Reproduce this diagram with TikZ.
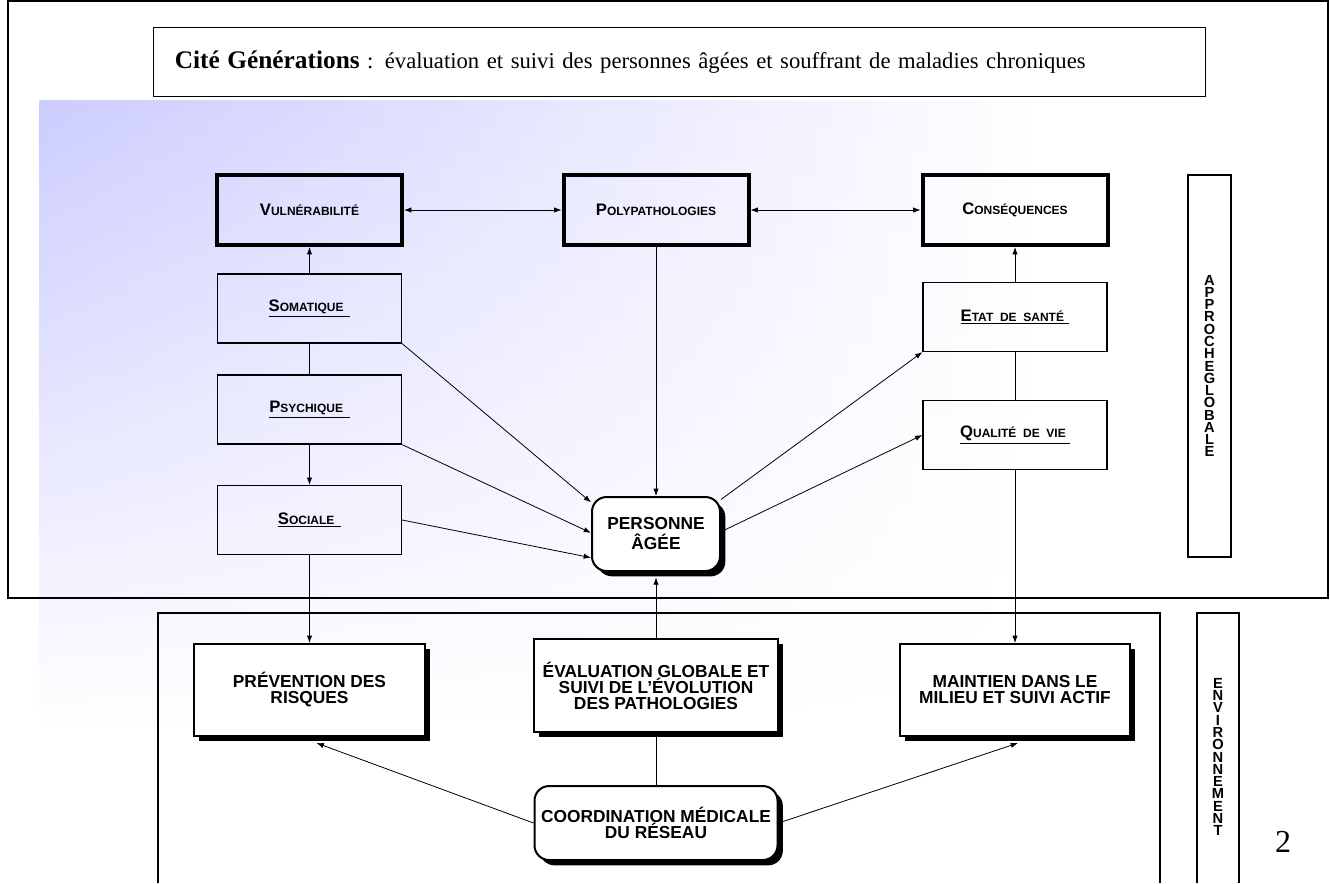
\documentclass[tikz,border=0pt]{standalone}
\usepackage{fontspec}
\setmainfont{Liberation Serif}
\newfontfamily\arial{Liberation Sans}
\usetikzlibrary{arrows.meta, shadows, fadings}
\newcommand{\capsc}[2]{{\fontsize{12.5}{14}\selectfont #1}{\fontsize{9}{11}\selectfont #2}}
\newcommand{\ulbox}[1]{\leavevmode\vtop{\hbox{#1}\kern1.2pt\hrule height 1pt}}
\tikzfading[name=fadedown, top color=transparent!0, bottom color=transparent!100]
\tikzset{
	mainbox/.style={draw, line width=3pt, minimum width=138.75pt, minimum height=52.5pt, font=\arial\bfseries},
	subbox/.style={draw, line width=0.9pt, minimum width=138pt, minimum height=51.75pt, font=\arial\bfseries},
	actbox/.style={draw, fill=white, line width=1.5pt, align=center,
		font=\arial\bfseries\fontsize{13}{12}\selectfont,
		drop shadow={shadow xshift=4pt, shadow yshift=-4pt, fill=black, opacity=1}},
	hub/.style={actbox, rounded corners=11pt},
	sidebox/.style={draw, line width=0.8pt, align=center, font=\arial\bfseries\fontsize{11}{9.2}\selectfont},
	line/.style={draw, line width=0.6pt, -{Latex[length=5.5pt,width=4pt]}},
	both/.style={line, {Latex[length=5.5pt,width=4pt]}-{Latex[length=5.5pt,width=4pt]}},
	link/.style={draw, line width=0.6pt}
}
\begin{document}
\begin{tikzpicture}[x=0.75pt, y=-0.75pt]
	\useasboundingbox (0,0) rectangle (1330,883);
	% fond
	\shade[left color=blue!20, right color=white, path fading=fadedown] (40,100) rectangle (1040,730);
	\draw[line width=0.8pt] (8,1) rectangle (1328,598);
	\draw[line width=0.8pt] (158,883) |- (1160,613) -- (1160,883);
	\draw[line width=0.8pt] (1197,883) |- (1239,613) -- (1239,883);
	\node[draw, line width=1.1pt, minimum height=51.75pt, text width=757pt, inner xsep=16pt, align=left,
		font=\fontsize{17}{20}\selectfont] (title) at (679.5,62)
		{{\fontsize{19}{20}\selectfont\bfseries Cité Générations} : évaluation et suivi des personnes âgées et souffrant de maladies chroniques};
	% approche globale
	\node[mainbox] (vuln) at (309.5,210) {\capsc{V}{ULNÉRABILITÉ}};
	\node[mainbox] (poly) at (656,210) {\capsc{P}{OLYPATHOLOGIES}};
	\node[mainbox] (cons) at (1015,210) {\capsc{C}{ONSÉQUENCES}};
	\node[subbox] (soma) at (309.5,308.5) {\ulbox{\capsc{S}{OMATIQUE}\hspace{5pt}}};
	\node[subbox] (psy) at (309.5,409.5) {\ulbox{\capsc{P}{SYCHIQUE}\hspace{5pt}}};
	\node[subbox] (soc) at (309.5,520) {\ulbox{\capsc{S}{OCIALE}\hspace{5pt}}};
	\node[subbox] (etat) at (1015,317) {\ulbox{\capsc{E}{TAT\ \ DE\ \ SANTÉ}\hspace{4pt}}};
	\node[subbox] (qual) at (1015,435) {\ulbox{\capsc{Q}{UALITÉ\ \ DE\ \ VIE}\hspace{3pt}}};
	\node[hub, minimum width=96pt, minimum height=55.5pt, font=\arial\bfseries\fontsize{13}{15}\selectfont] (pers) at (656,534) {PERSONNE\\ÂGÉE};
	\node[sidebox, minimum width=32.25pt, minimum height=286.5pt] (appr) at (1209.5,366)
		{A\\P\\P\\R\\O\\C\\H\\E\\G\\L\\O\\B\\A\\L\\E};
	% environnement
	\node[actbox, minimum width=173.25pt, minimum height=69pt] (prev) at (309.5,690) {PRÉVENTION DES\\RISQUES};
	\node[actbox, minimum width=183pt, minimum height=69.75pt] (eval) at (656,685.5) {ÉVALUATION GLOBALE ET\\SUIVI DE L’ÉVOLUTION\\DES PATHOLOGIES};
	\node[actbox, minimum width=172.5pt, minimum height=69pt] (maint) at (1015,690) {MAINTIEN DANS LE\\MILIEU ET SUIVI ACTIF};
	\node[hub, minimum width=182.25pt, minimum height=55.5pt] (coord) at (656,823) {COORDINATION MÉDICALE\\DU RÉSEAU};
	\node[align=center, font=\arial\bfseries\fontsize{11}{9.2}\selectfont] (env) at (1218,757)
		{E\\N\\V\\I\\R\\O\\N\\N\\E\\M\\E\\N\\T};
	\node[font=\fontsize{24}{26}\selectfont] (page) at (1283,842) {2};
	% liens
	\draw[both] (vuln) -- (poly);
	\draw[both] (poly) -- (cons);
	\draw[line] (soma) -- (vuln);
	\draw[link] (soma) -- (psy);
	\draw[line] (psy) -- (soc);
	\draw[line] (soc) -- (prev);
	\draw[line] (soma.south east) -- (pers.154);
	\draw[line] (psy.south east) -- (pers.179);
	\draw[line] (soc.east) -- (pers.200);
	\draw[line] (poly) -- (pers);
	\draw[line] (pers.28) -- (etat.south west);
	\draw[line] (pers.2) -- (qual.west);
	\draw[line] (etat) -- (cons);
	\draw[link] (etat) -- (qual);
	\draw[line] (qual) -- (maint);
	\draw[line, shorten >=4pt] (eval) -- (pers);
	\draw[link] (eval) -- (coord);
	\draw[line] (coord.west) -- ([shift={(7,6)}]prev.south);
	\draw[line] (coord.east) -- ([shift={(3,6)}]maint.south);
\end{tikzpicture}
\end{document}
